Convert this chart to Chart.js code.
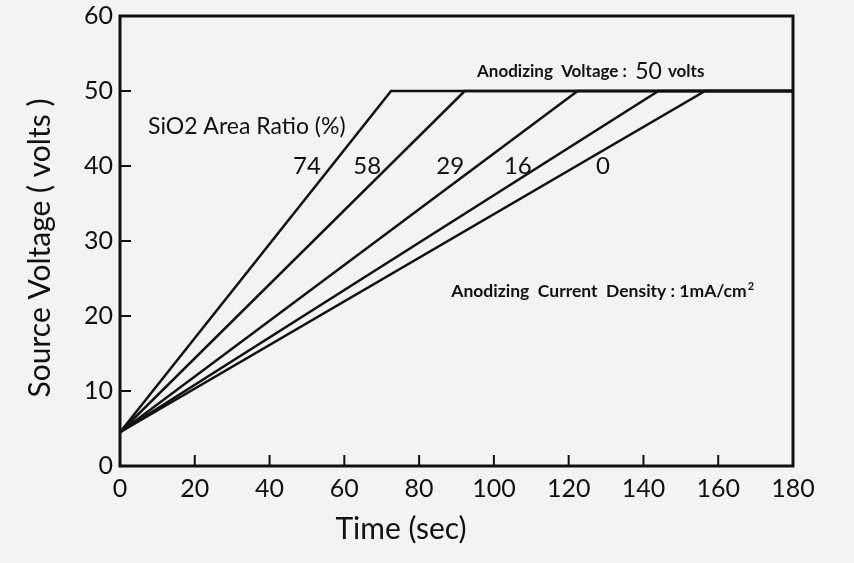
<!DOCTYPE html>
<html><head><meta charset="utf-8">
<script src="https://cdn.jsdelivr.net/npm/chart.js@4.4.1/dist/chart.umd.min.js"></script>
<style>html,body{margin:0;padding:0;background:#f3f3f1;}#wrap{width:854px;height:563px;}</style>
</head><body><div id="wrap"><canvas id="c" width="854" height="563"></canvas></div>
<script>
const ratioLabels = ['74', '58', '29', '16', '0'];
const startVoltage = 4.5;
const anodizingVoltage = 50;
const timeToReach = [72.5, 92.2, 122.4, 144.0, 156.5];
const endTime = 180;
const xTicks = [0, 20, 40, 60, 80, 100, 120, 140, 160, 180];
const yTicks = [0, 10, 20, 30, 40, 50, 60];
const xTitle = 'Time (sec)';
const yTitle = 'Source Voltage ( volts )';

const FONT = 'Lato, "DejaVu Sans", sans-serif';

const datasets = ratioLabels.map((r, i) => ({
  label: r,
  data: [{x: 0, y: startVoltage}, {x: timeToReach[i], y: anodizingVoltage}, {x: endTime, y: anodizingVoltage}],
  showLine: true, borderColor: '#111', borderWidth: 2.5, pointRadius: 0, fill: false, tension: 0
}));

// label anchor positions in data units (layout only)
const labelPos = [[50.0, 39.9], [66.1, 39.9], [88.3, 39.9], [106.4, 39.9], [129.2, 39.9]];

const framePlugin = {
  id: 'frame',
  beforeDraw(chart) {
    const ctx = chart.ctx;
    ctx.save(); ctx.fillStyle = '#f3f3f1'; ctx.fillRect(0, 0, chart.width, chart.height); ctx.restore();
  },
  afterDatasetsDraw(chart) {
    const {ctx, chartArea: a, scales: {x, y}} = chart;
    ctx.save();
    ctx.strokeStyle = '#111';
    ctx.lineWidth = 3;
    ctx.strokeRect(a.left, a.top, a.right - a.left, a.bottom - a.top);
    ctx.lineWidth = 2;
    ctx.beginPath();
    yTicks.slice(1, -1).forEach(v => { const p = y.getPixelForValue(v); ctx.moveTo(a.left, p); ctx.lineTo(a.left + 11, p); });
    xTicks.slice(1, -1).forEach(v => { const p = x.getPixelForValue(v); ctx.moveTo(p, a.bottom); ctx.lineTo(p, a.bottom - 11); });
    ctx.stroke();
    ctx.fillStyle = '#111';
    ctx.textBaseline = 'middle';
    // line labels
    ctx.font = '24px ' + FONT;
    ctx.textAlign = 'center';
    ratioLabels.forEach((r, i) => ctx.fillText(r, x.getPixelForValue(labelPos[i][0]), y.getPixelForValue(labelPos[i][1])));
    // SiO2 title
    ctx.textAlign = 'left';
    ctx.font = '23px ' + FONT;
    ctx.fillText('SiO2 Area Ratio (%)', x.getPixelForValue(7.5), y.getPixelForValue(45.2));
    // Anodizing voltage
    let px = x.getPixelForValue(95.5), py = y.getPixelForValue(52.6);
    ctx.font = 'bold 17px ' + FONT;
    let t1 = 'Anodizing  Voltage :  ';
    ctx.fillText(t1, px, py); px += ctx.measureText(t1).width;
    ctx.font = '23px ' + FONT;
    ctx.fillText('50', px, py); px += ctx.measureText('50').width + 6;
    ctx.font = 'bold 17px ' + FONT;
    ctx.fillText('volts', px, py);
    // current density
    px = x.getPixelForValue(88.6); py = y.getPixelForValue(23.3);
    ctx.font = 'bold 17.5px ' + FONT;
    let t2 = 'Anodizing  Current  Density : 1mA/cm';
    ctx.fillText(t2, px, py); px += ctx.measureText(t2).width;
    ctx.font = 'bold 11px ' + FONT;
    ctx.fillText('2', px + 1, py - 5);
    // axis titles
    ctx.font = '30px ' + FONT;
    ctx.textAlign = 'center';
    ctx.fillText(xTitle, 401, 529);
    ctx.translate(40, 248);
    ctx.rotate(-Math.PI / 2);
    ctx.fillText(yTitle, 0, 0);
    ctx.restore();
  }
};

new Chart(document.getElementById('c'), {
  type: 'scatter',
  data: {datasets},
  options: {
    responsive: false, animation: false,
    layout: {padding: {left: 0, top: 16, right: 61, bottom: 0}},
    plugins: {legend: {display: false}, tooltip: {enabled: false}},
    scales: {
      x: {
        type: 'linear', min: 0, max: 180,
        afterBuildTicks: s => { s.ticks = xTicks.map(v => ({value: v})); },
        afterFit: s => { s.height = 97; s.paddingLeft = 0; s.paddingRight = 0; },
        grid: {display: false, drawTicks: false}, border: {display: false},
        ticks: {color: '#111', font: {family: FONT, size: 25}, padding: 8, maxRotation: 0},
        title: {display: false}
      },
      y: {
        type: 'linear', min: 0, max: 60,
        afterBuildTicks: s => { s.ticks = yTicks.map(v => ({value: v})); },
        afterFit: s => { s.width = 120; s.paddingTop = 0; s.paddingBottom = 0; },
        grid: {display: false, drawTicks: false}, border: {display: false},
        ticks: {color: '#111', font: {family: FONT, size: 25}, padding: 7},
        title: {display: false}
      }
    }
  },
  plugins: [framePlugin]
});
</script></body></html>
